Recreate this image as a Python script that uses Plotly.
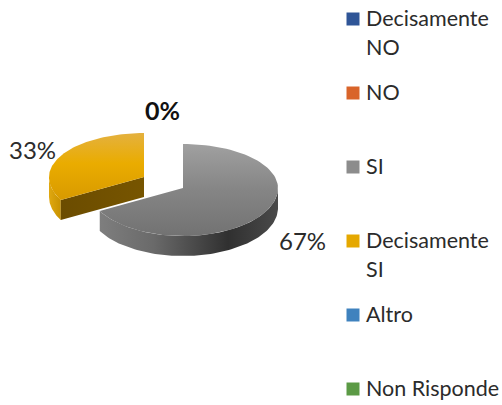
import numpy as np
import plotly.graph_objects as go

categories = ["Decisamente NO", "NO", "SI", "Decisamente SI", "Altro", "Non Risponde"]
values = [0, 0, 67, 33, 0, 0]
pct_labels = ["0%", "67%", "33%"]
colors = ["#2F5597", "#D9642A", "#8C8C8C", "#E5A800", "#3F82BE", "#5B9A45"]
legend_lines = [["Decisamente", "NO"], ["NO"], ["SI"], ["Decisamente", "SI"], ["Altro"], ["Non Risponde"]]
legend_y = [19, 93, 167, 241, 315, 389]

total = sum(values)
FONT = "Lato, 'Open Sans', sans-serif"
RX, RY_TOP, RY_BOT, DEPTH = 95, 44, 48, 20


def arc(cx, cy, a0, a1, dz=0, n=90):
    t = np.radians(np.linspace(a0, a1, n))
    c = np.cos(t)
    ry = np.where(c > 0, RY_TOP, RY_BOT)
    return cx + RX * np.sin(t), cy - ry * c + dz


fig = go.Figure()


def poly(x, y, color=None, grad=None):
    kw = dict(fillgradient=grad) if grad else dict(fillcolor=color)
    fig.add_trace(go.Scatter(x=list(x), y=list(y), mode="lines", fill="toself",
                             line=dict(width=0, color="rgba(0,0,0,0)"),
                             hoverinfo="skip", showlegend=False, **kw))


def vgrad(stops):
    return dict(type="vertical", colorscale=stops)


def hgrad(stops):
    return dict(type="horizontal", colorscale=stops)


# Slice angles follow the values, clockwise from 12 o'clock
si_end = 360 * values[2] / total
ds_start, ds_end = si_end, si_end + 360 * values[3] / total

# --- Decisamente SI slice (pulled out) ---
cx, cy = 144, 177
ax, ay = arc(cx, cy, ds_start, 270)
bx, by = arc(cx, cy, 270, ds_start, DEPTH)
poly(np.r_[ax, bx], np.r_[ay, by], grad=hgrad([[0, "#E0A810"], [1, "#C89200"]]))
sx, sy = arc(cx, cy, ds_start, ds_start, n=1)
poly([cx, sx[0], sx[0], cx], [cy, sy[0], sy[0] + DEPTH, cy + DEPTH],
     grad=hgrad([[0, "#6B4C00"], [1, "#775500"]]))
tx, ty = arc(cx, cy, ds_start, ds_end)
poly(np.r_[cx, tx], np.r_[cy, ty],
     grad=vgrad([[0, "#D89A00"], [0.55, "#EAAC00"], [1, "#E4B13F"]]))

# --- SI slice ---
cx, cy = 183, 188
ax, ay = arc(cx, cy, 90, si_end)
bx, by = arc(cx, cy, si_end, 90, DEPTH)
poly(np.r_[ax, bx], np.r_[ay, by],
     grad=hgrad([[0, "#7E7E7E"], [0.3, "#6A6A6A"], [0.72, "#303030"], [1, "#4A4A4A"]]))
tx, ty = arc(cx, cy, 0, si_end)
poly(np.r_[cx, tx], np.r_[cy, ty],
     grad=vgrad([[0, "#727272"], [0.5, "#858585"], [1, "#A0A0A0"]]))

# --- Legend ---
fig.add_trace(go.Scatter(
    x=[353] * len(categories), y=legend_y, mode="markers", text=categories,
    marker=dict(symbol="square", size=13, color=colors), hoverinfo="text", showlegend=False))

annotations = []
for lines, y in zip(legend_lines, legend_y):
    for i, line in enumerate(lines):
        annotations.append(dict(x=364, y=y + i * 29 - 1, text=line, xanchor="left", yanchor="middle",
                                showarrow=False, font=dict(family=FONT, size=21.5, color="#2B2B2B")))

# --- Data labels ---
annotations += [
    dict(x=162, y=110, text=f"<b>{pct_labels[0]}</b>", font=dict(family=FONT, size=25, color="#111111")),
    dict(x=302, y=240, text=pct_labels[1], font=dict(family=FONT, size=24, color="#2B2B2B")),
    dict(x=32, y=149, text=pct_labels[2], font=dict(family=FONT, size=24, color="#2B2B2B")),
]
for a in annotations[-3:]:
    a.update(showarrow=False, xanchor="center", yanchor="middle")

fig.update_layout(
    width=502, height=405, margin=dict(l=0, r=0, t=0, b=0),
    paper_bgcolor="white", plot_bgcolor="white", annotations=annotations, showlegend=False,
    xaxis=dict(range=[0, 502], visible=False, fixedrange=True),
    yaxis=dict(range=[405, 0], visible=False, fixedrange=True),
)
fig.write_html("out.html", config={"displayModeBar": False},
               post_script="document.body.style.margin='0';document.documentElement.style.overflow='hidden';")
